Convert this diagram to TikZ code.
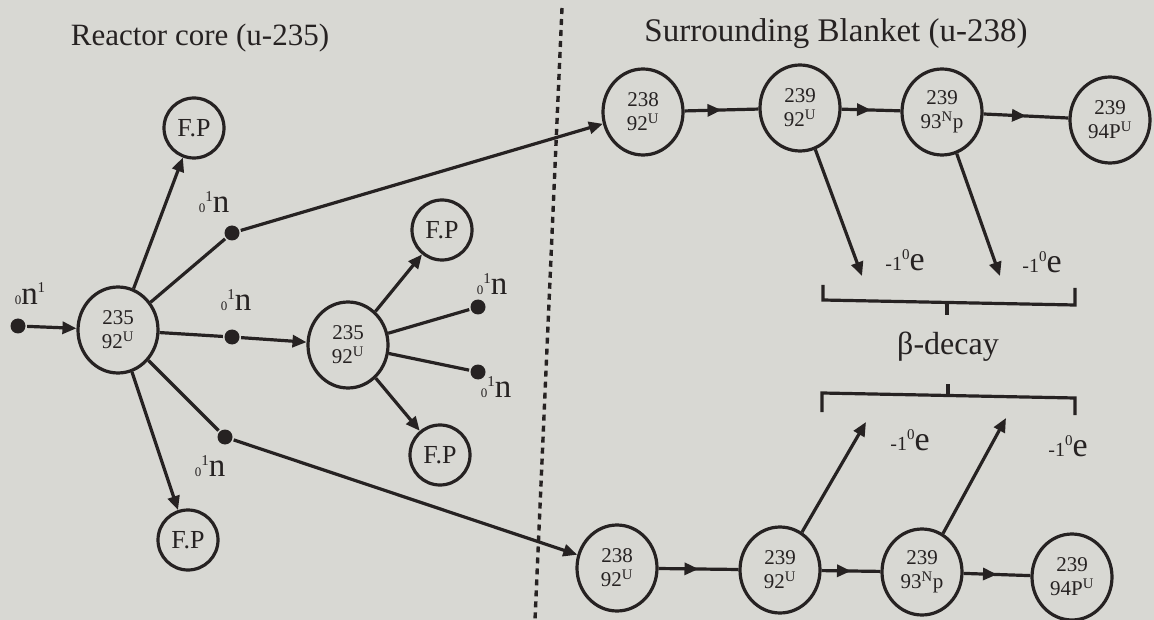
\documentclass[tikz,border=0pt]{standalone}
\usepackage{fontspec}
\setmainfont{Liberation Serif}
\usetikzlibrary{arrows.meta,decorations.markings,shapes.geometric}
\definecolor{paper}{RGB}{216,216,211}
\definecolor{ink}{RGB}{38,34,34}
\newcommand{\fs}[1]{\fontsize{#1}{#1}\selectfont}
\newcommand{\neut}{{\fs{13}0}\raisebox{11pt}{\fs{15}1}{\fs{33}n}}
\newcommand{\elec}{{\fs{20}-1}\raisebox{11pt}{\fs{15}0}{\fs{34}e}}
\begin{document}
\begin{tikzpicture}[x=1pt,y=-1pt, color=ink, line width=3.2pt,
  nuc/.style={ellipse, draw=ink, line width=3.2pt, minimum width=80pt, minimum height=86pt, inner sep=0pt, align=center, font=\fontsize{21}{24}\selectfont, text=ink},
  fp/.style={circle, draw=ink, line width=3.2pt, minimum size=60pt, inner sep=0pt, font=\fs{26}, text=ink},
  dotn/.style={circle, fill=ink, draw=none, minimum size=15pt, inner sep=0pt},
  lbl/.style={draw=none, inner sep=0pt, text=ink},
  arr/.style={-{Triangle[length=14pt,width=12pt]}},
  midarr/.style={postaction={decorate}, decoration={markings, mark=at position 0.5 with {\arrow{Triangle[length=14pt,width=12pt]}}}}
]
\fill[paper] (0,0) rectangle (1154,620);
\useasboundingbox (0,0) rectangle (1154,620);

% titles
\node[lbl, font=\fs{31}] (t1) at (200,38) {Reactor core (u-235)};
\node[lbl, font=\fs{33}] (t2) at (836,34) {Surrounding Blanket (u-238)};

% divider
\draw[line width=3.4pt, dash pattern=on 6pt off 5pt] (562,8) -- (535,620);

% reactor core
\node[dotn] (n0) at (18,326) {};
\node[lbl] (n0l) at (30,294) {{\fs{13}0}{\fs{33}n}\raisebox{12pt}{\fs{15}1}};
\node[nuc] (U1) at (118,330) {235\\92\textsuperscript{U}};
\node[fp] (fp1) at (194,128) {F.P};
\node[fp] (fp2) at (188,540) {F.P};
\node[dotn] (d1) at (232,233) {};
\node[lbl] (d1l) at (214,202) {\neut};
\node[dotn] (d2) at (232,337) {};
\node[lbl] (d2l) at (236,300) {\neut};
\node[dotn] (d3) at (225,437) {};
\node[lbl] (d3l) at (210,466) {\neut};

\node[nuc] (U2) at (348,345) {235\\92\textsuperscript{U}};
\node[fp] (fp3) at (442,230) {F.P};
\node[fp] (fp4) at (440,455) {F.P};
\node[dotn] (d4) at (478,307) {};
\node[lbl] (d4l) at (492,284) {\neut};
\node[dotn] (d5) at (478,372) {};
\node[lbl] (d5l) at (496,387) {\neut};

\draw[arr] (n0) -- (U1);
\draw[arr] (U1) -- (fp1);
\draw[arr] (U1) -- (fp2);
\draw (U1) -- (d1);
\draw (U1) -- (d2);
\draw (U1) -- (d3);
\draw[arr] (d2) -- (U2);
\draw[arr] (U2) -- (fp3);
\draw[arr] (U2) -- (fp4);
\draw (U2) -- (d4);
\draw (U2) -- (d5);

% blanket top chain
\node[nuc] (A1) at (643,112) {238\\92\textsuperscript{U}};
\node[nuc] (A2) at (800,108) {239\\92\textsuperscript{U}};
\node[nuc] (A3) at (942,112) {239\\93\textsuperscript{N}p};
\node[nuc] (A4) at (1110,120) {239\\94P\textsuperscript{U}};
\draw[arr] (d1) -- (A1);
\draw[midarr] (A1) -- (A2);
\draw[midarr] (A2) -- (A3);
\draw[midarr] (A3) -- (A4);

% blanket bottom chain
\node[nuc] (B1) at (617,568) {238\\92\textsuperscript{U}};
\node[nuc] (B2) at (780,570) {239\\92\textsuperscript{U}};
\node[nuc] (B3) at (922,572) {239\\93\textsuperscript{N}p};
\node[nuc] (B4) at (1072,577) {239\\94P\textsuperscript{U}};
\draw[arr] (d3) -- (B1);
\draw[midarr] (B1) -- (B2);
\draw[midarr] (B2) -- (B3);
\draw[midarr] (B3) -- (B4);

% beta emissions
\coordinate (e1) at (862,276);
\coordinate (e2) at (1000,276);
\coordinate (e3) at (866,422);
\coordinate (e4) at (1006,418);
\draw[arr] (A2) -- (e1);
\draw[arr] (A3) -- (e2);
\draw[arr] (B2) -- (e3);
\draw[arr] (B3) -- (e4);
\node[lbl] (e1l) at (905,260) {\elec};
\node[lbl] (e2l) at (1042,262) {\elec};
\node[lbl] (e3l) at (910,440) {\elec};
\node[lbl] (e4l) at (1068,446) {\elec};

% brackets
\draw (823,285) -- (823,300) -- (1075,305) -- (1075,288);
\draw (947,302) -- (947,315);
\node[lbl, font=\fs{32}] (beta) at (948,347) {β-decay};
\draw (822,412) -- (822,393) -- (1075,398) -- (1075,415);
\draw (948,384) -- (948,396);
\end{tikzpicture}
\end{document}
